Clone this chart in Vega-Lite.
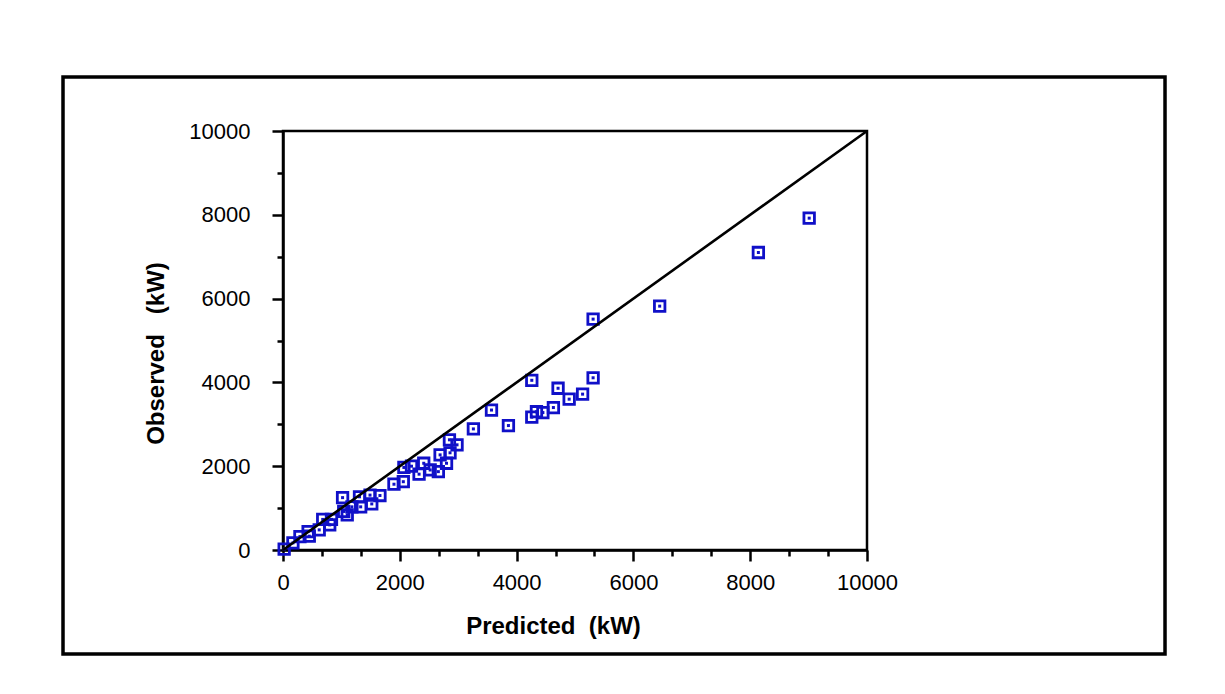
{
  "$schema": "https://vega.github.io/schema/vega-lite/v6.json",
  "width": 584,
  "height": 419,
  "autosize": {"type": "none"},
  "padding": {"left": 283, "top": 131, "right": 358, "bottom": 144},
  "background": "white",
  "config": {
    "view": {"stroke": "black", "strokeWidth": 2.5},
    "axis": {
      "domainColor": "black",
      "domainWidth": 2.5,
      "tickColor": "black",
      "tickWidth": 2.5,
      "grid": false,
      "labelFont": "Liberation Sans",
      "labelFontSize": 22,
      "labelColor": "black",
      "labelOverlap": false,
      "labelFlush": false,
      "labelBound": false,
      "titleFont": "Liberation Sans",
      "titleFontSize": 24,
      "titleFontWeight": "bold",
      "titleColor": "black"
    }
  },
  "datasets": {
    "measurements": [
      {"predicted": 20, "observed": 20},
      {"predicted": 170, "observed": 170},
      {"predicted": 290, "observed": 320},
      {"predicted": 430, "observed": 440},
      {"predicted": 450, "observed": 330},
      {"predicted": 620, "observed": 480},
      {"predicted": 680, "observed": 730},
      {"predicted": 830, "observed": 730},
      {"predicted": 800, "observed": 600},
      {"predicted": 1020, "observed": 1250},
      {"predicted": 1040, "observed": 920},
      {"predicted": 1100, "observed": 840},
      {"predicted": 1180, "observed": 1030},
      {"predicted": 1310, "observed": 1270},
      {"predicted": 1330, "observed": 1030},
      {"predicted": 1490, "observed": 1310},
      {"predicted": 1520, "observed": 1100},
      {"predicted": 1660, "observed": 1300},
      {"predicted": 1900, "observed": 1570},
      {"predicted": 2060, "observed": 1630},
      {"predicted": 2070, "observed": 1970},
      {"predicted": 2200, "observed": 2000},
      {"predicted": 2330, "observed": 1810},
      {"predicted": 2410, "observed": 2070},
      {"predicted": 2520, "observed": 1910},
      {"predicted": 2660, "observed": 1870},
      {"predicted": 2690, "observed": 2270},
      {"predicted": 2800, "observed": 2070},
      {"predicted": 2860, "observed": 2320},
      {"predicted": 2850, "observed": 2630},
      {"predicted": 2980, "observed": 2510},
      {"predicted": 3260, "observed": 2890},
      {"predicted": 3570, "observed": 3340},
      {"predicted": 3860, "observed": 2970},
      {"predicted": 4260, "observed": 4050},
      {"predicted": 4260, "observed": 3170},
      {"predicted": 4340, "observed": 3300},
      {"predicted": 4450, "observed": 3280},
      {"predicted": 4630, "observed": 3400},
      {"predicted": 4710, "observed": 3860},
      {"predicted": 4900, "observed": 3600},
      {"predicted": 5130, "observed": 3720},
      {"predicted": 5310, "observed": 5510},
      {"predicted": 5310, "observed": 4110},
      {"predicted": 6450, "observed": 5820},
      {"predicted": 8140, "observed": 7100},
      {"predicted": 9010, "observed": 7920}
    ],
    "identity": [
      {"predicted": 0, "observed": 0},
      {"predicted": 10000, "observed": 10000}
    ],
    "frame": [
      {"predicted": -3767, "predicted_end": 15103, "observed": -2482, "observed_end": 11289}
    ]
  },
  "layer": [
    {
      "data": {"name": "measurements"},
      "mark": {"type": "point", "shape": "square", "filled": false, "size": 110, "strokeWidth": 2.8, "color": "#1010c8", "opacity": 1},
      "encoding": {
        "x": {
          "field": "predicted",
          "type": "quantitative",
          "scale": {"domain": [0, 10000], "nice": false},
          "axis": {
            "title": "Predicted\u00a0 (kW)",
            "values": [0, 666.67, 1333.33, 2000, 2666.67, 3333.33, 4000, 4666.67, 5333.33, 6000, 6666.67, 7333.33, 8000, 8666.67, 9333.33, 10000],
            "tickCount": 30,
            "labelExpr": "abs(datum.value - round(datum.value / 2000) * 2000) < 1 ? format(datum.value, 'd') : ''",
            "tickSize": {"condition": {"test": "abs(datum.value - round(datum.value / 2000) * 2000) < 1", "value": 11}, "value": 6},
            "labelOverlap": false,
            "labelFlush": false,
            "labelBound": false,
            "labelPadding": 11,
            "titleX": 270,
            "titleY": 83,
            "titleAlign": "center",
            "titleBaseline": "alphabetic"
          }
        },
        "y": {
          "field": "observed",
          "type": "quantitative",
          "scale": {"domain": [0, 10000], "nice": false},
          "axis": {
            "title": "Observed\u00a0\u00a0 (kW)",
            "values": [0, 1000, 2000, 3000, 4000, 5000, 6000, 7000, 8000, 9000, 10000],
            "tickCount": 30,
            "labelExpr": "datum.value % 2000 === 0 ? format(datum.value, 'd') : ''",
            "tickSize": {"condition": {"test": "datum.value % 2000 === 0", "value": 11}, "value": 6},
            "labelOverlap": false,
            "labelFlush": false,
            "labelBound": false,
            "labelPadding": 22,
            "titleX": -120,
            "titleY": 222,
            "titleAngle": -90,
            "titleAlign": "center",
            "titleBaseline": "alphabetic"
          }
        }
      }
    },
    {
      "data": {"name": "measurements"},
      "mark": {"type": "point", "shape": "square", "filled": true, "size": 9, "color": "#1010c8", "opacity": 1},
      "encoding": {
        "x": {"field": "predicted", "type": "quantitative"},
        "y": {"field": "observed", "type": "quantitative"}
      }
    },
    {
      "data": {"name": "identity"},
      "mark": {"type": "line", "color": "black", "strokeWidth": 2.6},
      "encoding": {
        "x": {"field": "predicted", "type": "quantitative"},
        "y": {"field": "observed", "type": "quantitative"}
      }
    },
    {
      "data": {"name": "frame"},
      "mark": {"type": "rect", "fill": null, "stroke": "black", "strokeWidth": 3.5, "clip": false},
      "encoding": {
        "x": {"field": "predicted", "type": "quantitative"},
        "x2": {"field": "predicted_end"},
        "y": {"field": "observed", "type": "quantitative"},
        "y2": {"field": "observed_end"}
      }
    }
  ]
}
